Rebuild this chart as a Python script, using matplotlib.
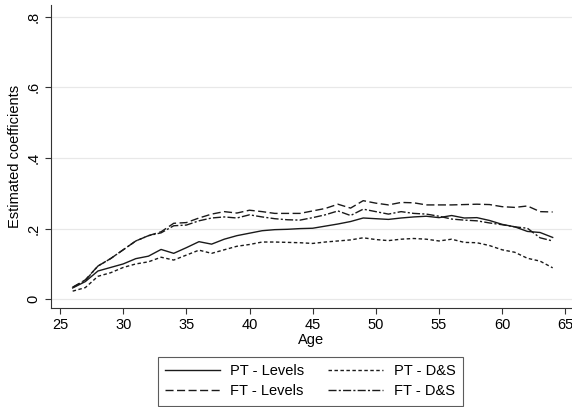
import matplotlib
matplotlib.use("Agg")
import matplotlib.pyplot as plt

plt.rcParams['font.family'] = ['Liberation Sans', 'DejaVu Sans']

ages = list(range(26, 65))

pt_levels = [0.032, 0.050, 0.080, 0.090, 0.100, 0.115, 0.122, 0.141, 0.130, 0.146,
             0.163, 0.156, 0.170, 0.180, 0.187, 0.194, 0.197, 0.198, 0.200, 0.201,
             0.207, 0.213, 0.220, 0.230, 0.228, 0.226, 0.230, 0.233, 0.235, 0.231,
             0.237, 0.230, 0.231, 0.223, 0.212, 0.205, 0.192, 0.189, 0.175]

pt_ds = [0.023, 0.033, 0.065, 0.075, 0.090, 0.100, 0.106, 0.119, 0.111, 0.125,
         0.139, 0.130, 0.140, 0.150, 0.155, 0.162, 0.162, 0.161, 0.160, 0.158,
         0.162, 0.165, 0.168, 0.174, 0.169, 0.166, 0.170, 0.172, 0.170, 0.165,
         0.170, 0.161, 0.160, 0.152, 0.140, 0.133, 0.116, 0.108, 0.089]

ft_levels = [0.034, 0.055, 0.094, 0.115, 0.140, 0.165, 0.180, 0.191, 0.215, 0.217,
             0.230, 0.241, 0.248, 0.244, 0.252, 0.248, 0.243, 0.243, 0.243, 0.250,
             0.257, 0.269, 0.258, 0.279, 0.272, 0.267, 0.274, 0.273, 0.267, 0.267,
             0.267, 0.268, 0.269, 0.268, 0.262, 0.260, 0.264, 0.248, 0.247]

ft_ds = [0.034, 0.053, 0.094, 0.115, 0.140, 0.165, 0.180, 0.188, 0.208, 0.210,
         0.222, 0.230, 0.233, 0.230, 0.239, 0.233, 0.228, 0.225, 0.224, 0.231,
         0.239, 0.250, 0.237, 0.255, 0.248, 0.241, 0.248, 0.243, 0.241, 0.235,
         0.227, 0.224, 0.222, 0.216, 0.211, 0.205, 0.201, 0.174, 0.165]

x_ticks = [25, 30, 35, 40, 45, 50, 55, 60, 65]
y_ticks = [0, 0.2, 0.4, 0.6, 0.8]
y_ticklabels = ["0", ".2", ".4", ".6", ".8"]

fs = 10.5
fig = plt.figure(figsize=(5.72, 4.07), dpi=100)
ax = fig.add_axes([0.0886, 0.244, 0.9114, 0.744])

col = "#1a1a1a"
l1, = ax.plot(ages, pt_levels, color=col, lw=1.0, label="PT - Levels")
l2, = ax.plot(ages, pt_ds, color=col, lw=1.0, label="PT - D&S")
l2.set_dashes([2.5, 1.8])
l3, = ax.plot(ages, ft_levels, color=col, lw=1.0, label="FT - Levels")
l3.set_dashes([5.8, 2.5])
l4, = ax.plot(ages, ft_ds, color=col, lw=1.0, label="FT - D&S")
l4.set_dashes([5.8, 1.6, 1.5, 1.6])

ax.set_xlim(24.26, 65.53)
ax.set_ylim(-0.0238, 0.833)
ax.set_xticks(x_ticks)
ax.set_yticks(y_ticks)
ax.set_yticklabels(y_ticklabels, rotation=90, va="center")
ax.tick_params(axis="both", labelsize=fs, length=4, width=0.8, color="#333333")
ax.grid(axis="y", color="#e8e8e8", lw=0.9)
ax.set_axisbelow(True)
for s in ("top", "right"):
    ax.spines[s].set_visible(False)
for s in ("left", "bottom"):
    ax.spines[s].set_color("#333333")
    ax.spines[s].set_linewidth(0.8)

ax.set_xlabel("Age", fontsize=fs, labelpad=1)
ax.set_ylabel("Estimated coefficients", fontsize=fs, labelpad=3)

# column-wise fill -> order so rows read PT Levels / PT D&S, FT Levels / FT D&S
leg = fig.legend(handles=[l1, l3, l2, l4], loc="lower center", ncol=2,
                 bbox_to_anchor=(0.542, 0.0), fontsize=fs, frameon=True,
                 fancybox=False, edgecolor="#333333", handlelength=3.8,
                 handletextpad=0.7, columnspacing=1.6, labelspacing=0.42,
                 borderpad=0.5, borderaxespad=0.1)
leg.get_frame().set_linewidth(0.8)

fig.savefig("out.png", dpi=100)
